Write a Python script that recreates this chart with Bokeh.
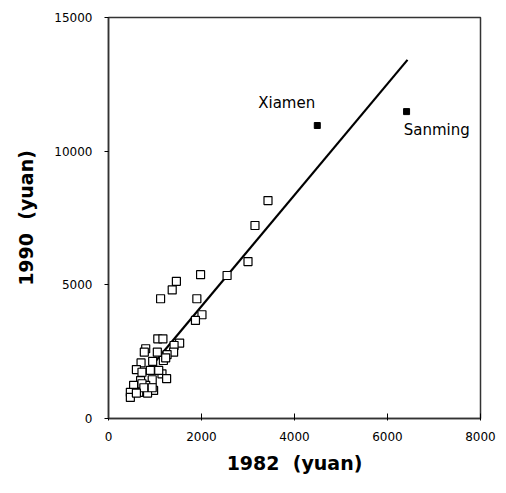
from bokeh.plotting import figure
from bokeh.models import Range1d, FixedTicker
from bokeh.core.properties import value
from bokeh.embed import file_html
from bokeh.resources import INLINE

# Cities (1982 income, 1990 income), yuan
x1982 = [3430, 3150, 3000, 2550, 1980, 1460, 1370, 1120, 1900, 2010, 1870,
         1060, 1170, 1530, 1410, 1400, 800, 770, 1050, 1260, 1180, 950, 700,
         600, 720, 970, 1150, 940, 1250, 690, 540, 800, 970, 650, 470, 840,
         470, 1230, 900, 1080, 720, 760, 940, 600]
y1990 = [8150, 7220, 5870, 5350, 5380, 5130, 4810, 4480, 4480, 3880, 3670,
         2980, 2980, 2820, 2730, 2480, 2610, 2480, 2480, 2390, 2170, 2140, 2080,
         1830, 1730, 1800, 1670, 1450, 1490, 1420, 1240, 1240, 1050, 980, 980, 950,
         790, 2270, 1800, 1800, 1300, 1150, 1150, 950]

# Highlighted cities
hl_names = ["Xiamen", "Sanming"]
hl_x = [4490, 6410]
hl_y = [10960, 11480]

# Regression line endpoints (1982 values) and fit
line_x = [750, 6430]
slope = 2.08
intercept = 40
line_y = [intercept + slope * v for v in line_x]

p = figure(width=506, height=493, output_backend="svg", toolbar_location=None,
           x_range=Range1d(0, 8000), y_range=Range1d(0, 15000),
           min_border_left=108, min_border_right=26, min_border_top=17,
           min_border_bottom=75)
p.grid.visible = False
p.outline_line_color = "#333333"
p.outline_line_width = 1.5
p.background_fill_color = "white"
p.border_fill_color = "white"

p.line(line_x, line_y, line_color="black", line_width=2.2)
p.scatter(x1982, y1990, marker="square", size=8, fill_color="white",
          line_color="black", line_width=1.2)
p.scatter(hl_x, hl_y, marker="square", size=6, fill_color="black",
          line_color="black")

p.text([3220], [11480], text=[hl_names[0]], text_font=value("DejaVu Sans"),
       text_font_size="15px", text_baseline="bottom", text_align="left",
       text_color="black")
p.text([6350], [11120], text=[hl_names[1]], text_font=value("DejaVu Sans"),
       text_font_size="15px", text_baseline="top", text_align="left",
       text_color="black")

for ax in (p.xaxis[0], p.yaxis[0]):
    ax.axis_line_color = "#333333"
    ax.axis_line_width = 1.5
    ax.major_tick_line_color = "black"
    ax.minor_tick_line_color = None
    ax.major_label_text_font = "DejaVu Sans"
    ax.major_label_text_font_size = "12px"
    ax.major_label_text_color = "black"
    ax.axis_label_text_font = "DejaVu Sans"
    ax.axis_label_text_font_style = "bold"
    ax.axis_label_text_font_size = "19px"
    ax.axis_label_text_color = "black"

p.xaxis[0].ticker = FixedTicker(ticks=[0, 2000, 4000, 6000, 8000])
p.yaxis[0].ticker = FixedTicker(ticks=[0, 5000, 10000, 15000])
p.xaxis[0].major_tick_in = 5
p.xaxis[0].major_tick_out = 2
p.yaxis[0].major_tick_in = 0
p.yaxis[0].major_tick_out = 4
p.xaxis[0].major_label_standoff = 11
p.yaxis[0].major_label_standoff = 12
p.xaxis[0].axis_label = "1982\u00a0\u00a0(yuan)"
p.yaxis[0].axis_label = "1990\u00a0\u00a0(yuan)"
p.xaxis[0].axis_label_standoff = 8
p.yaxis[0].axis_label_standoff = 14

open("out.html", "w").write(file_html(p, INLINE))
